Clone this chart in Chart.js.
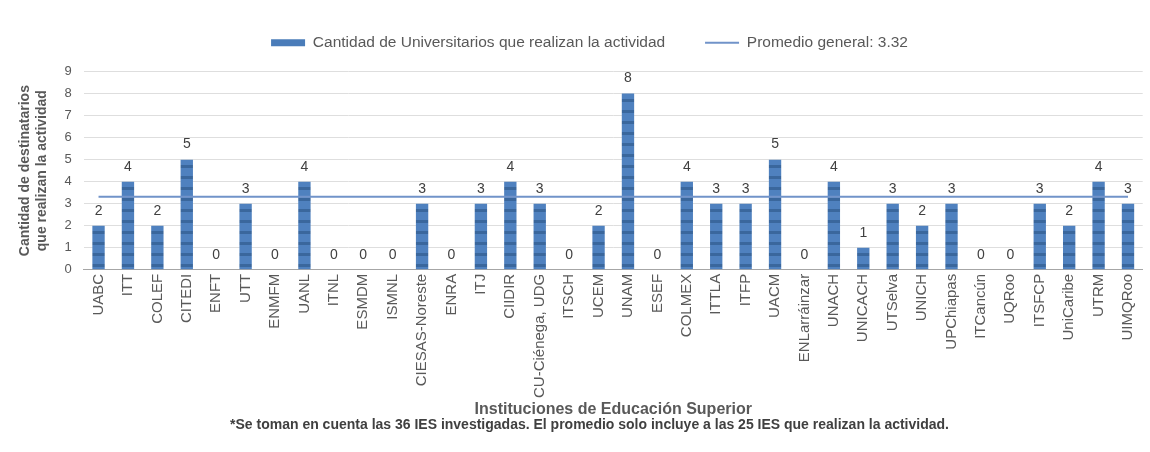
<!DOCTYPE html>
<html lang="es">
<head>
    <meta charset="UTF-8">
    <title>Destinatarios que realizan la actividad</title>
    <style>
        body {
            margin: 0;
            background: #ffffff;
            font-family: "Liberation Sans", Arial, sans-serif;
        }
        #wrap {
            width: 1150px;
            height: 452px;
        }
    </style>
</head>
<body>
    <div id="wrap"><canvas id="chart"></canvas></div>

    <script src="https://cdn.jsdelivr.net/npm/chart.js"></script>
    <script>
        // Datos
        const instituciones = ['UABC', 'ITT', 'COLEF', 'CITEDI', 'ENFT', 'UTT', 'ENMFM', 'UANL', 'ITNL', 'ESMDM', 'ISMNL',
            'CIESAS-Noreste', 'ENRA', 'ITJ', 'CIIDIR', 'CU-Ciénega, UDG', 'ITSCH', 'UCEM', 'UNAM', 'ESEF', 'COLMEX',
            'ITTLA', 'ITFP', 'UACM', 'ENLarráinzar', 'UNACH', 'UNICACH', 'UTSelva', 'UNICH', 'UPChiapas', 'ITCancún',
            'UQRoo', 'ITSFCP', 'UniCaribe', 'UTRM', 'UIMQRoo'];
        const cantidades = [2, 4, 2, 5, 0, 3, 0, 4, 0, 0, 0, 3, 0, 3, 4, 3, 0, 2, 8, 0, 4, 3, 3, 5, 0, 4, 1, 3, 2, 3, 0, 0, 3, 2, 4, 3];
        const promedio = 3.32;
        const promedioLinea = instituciones.map(() => promedio);

        const gris = '#595959';
        const fuente = '"Liberation Sans", Arial, sans-serif';
        Chart.defaults.font.family = fuente;

        // textura rayada de las barras (como en Excel)
        const tex = document.createElement('canvas');
        tex.width = 1;
        tex.height = 11;
        const tctx = tex.getContext('2d');
        tctx.fillStyle = '#4f81bf';
        tctx.fillRect(0, 0, 1, 11);
        tctx.fillStyle = '#3a679d';
        tctx.fillRect(0, 0, 1, 3);
        const rayas = tctx.createPattern(tex, 'repeat');

        // Etiquetas de valor encima de cada barra
        const etiquetasValor = {
            id: 'etiquetasValor',
            afterDatasetsDraw(chart) {
                const ctx = chart.ctx;
                const meta = chart.getDatasetMeta(0);
                ctx.save();
                ctx.font = '14px ' + fuente;
                ctx.fillStyle = '#404040';
                ctx.textAlign = 'center';
                ctx.textBaseline = 'bottom';
                meta.data.forEach((bar, i) => {
                    ctx.fillText(cantidades[i], bar.x, bar.y - 8);
                });
                ctx.restore();
            }
        };

        // un poco más de aire entre la leyenda y la gráfica
        const espacioLeyenda = {
            id: 'espacioLeyenda',
            beforeInit(chart) {
                const fit = chart.legend.fit;
                chart.legend.fit = function () {
                    fit.call(this);
                    this.height += 11;
                };
            }
        };

        new Chart(document.getElementById('chart'), {
            type: 'bar',
            data: {
                labels: instituciones,
                datasets: [{
                    type: 'bar',
                    label: 'Cantidad de Universitarios que realizan la actividad',
                    data: cantidades,
                    backgroundColor: rayas,
                    borderWidth: 0,
                    barPercentage: 0.42,
                    categoryPercentage: 1,
                    order: 2
                }, {
                    type: 'line',
                    label: 'Promedio general: 3.32',
                    data: promedioLinea,
                    borderColor: '#7193c9',
                    backgroundColor: '#7193c9',
                    borderWidth: 2,
                    pointRadius: 0,
                    order: 1
                }]
            },
            options: {
                responsive: true,
                maintainAspectRatio: false,
                animation: false,
                layout: { padding: { top: 21, right: -12, left: 17, bottom: 20 } },
                plugins: {
                    legend: {
                        position: 'top',
                        labels: {
                            color: gris,
                            font: { size: 15.5 },
                            usePointStyle: true,
                            pointStyleWidth: 34,
                            boxHeight: 7,
                            padding: 14,
                            generateLabels(chart) {
                                const items = Chart.defaults.plugins.legend.labels.generateLabels(chart);
                                items.sort((a, b) => a.datasetIndex - b.datasetIndex);
                                items[0].pointStyle = 'rect';
                                items[0].fillStyle = '#4a7cb9';
                                items[0].strokeStyle = '#4a7cb9';
                                items[0].text += '      ';
                                items[1].pointStyle = 'line';
                                return items;
                            }
                        }
                    },
                    title: {
                        display: true,
                        position: 'bottom',
                        text: '*Se toman en cuenta las 36 IES investigadas. El promedio solo incluye a las 25 IES que realizan la actividad.',
                        color: '#404040',
                        font: { size: 14, weight: 'bold', lineHeight: 1 },
                        padding: { top: 0, bottom: 0 }
                    },
                    tooltip: { enabled: false }
                },
                scales: {
                    x: {
                        grid: { display: false, drawTicks: false, tickLength: 0 },
                        border: { color: '#a6a6a6' },
                        ticks: {
                            color: gris,
                            font: { size: 15 },
                            maxRotation: 90,
                            minRotation: 90,
                            autoSkip: false,
                            padding: 4
                        },
                        title: {
                            display: true,
                            text: 'Instituciones de Educación Superior',
                            color: gris,
                            font: { size: 16, weight: 'bold', lineHeight: 1 },
                            padding: { top: 0, bottom: 0 }
                        }
                    },
                    y: {
                        min: 0,
                        max: 9,
                        ticks: { stepSize: 1, color: gris, font: { size: 13 }, padding: 12 },
                        grid: { color: '#dedede', drawTicks: false, tickLength: 0 },
                        border: { display: false },
                        title: {
                            display: true,
                            text: ['Cantidad de destinatarios', 'que realizan la actividad'],
                            color: gris,
                            font: { size: 14, weight: 'bold', lineHeight: 1.2 },
                            padding: { top: 0, bottom: 2 }
                        }
                    }
                }
            },
            plugins: [etiquetasValor, espacioLeyenda]
        });
    </script>
</body>
</html>
